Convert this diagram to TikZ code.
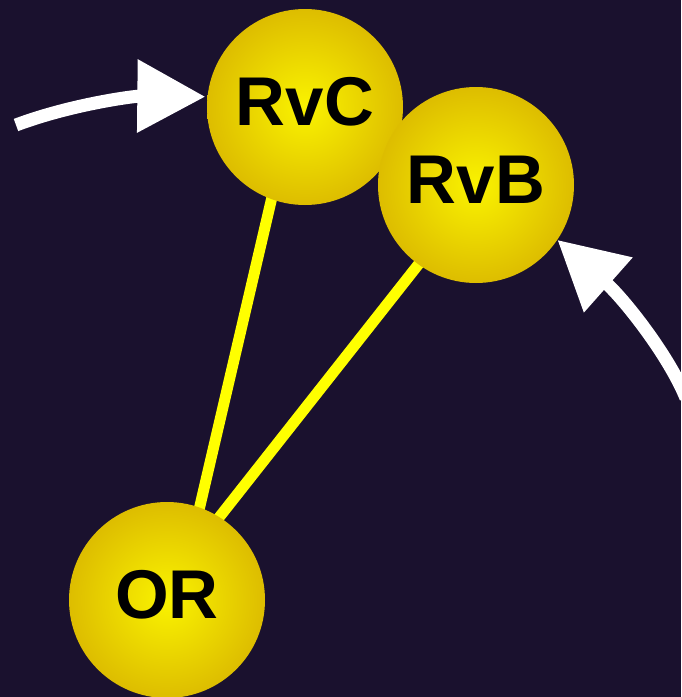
\documentclass[tikz,border=0pt]{standalone}
\usepackage{fontspec}
\setmainfont{Liberation Sans}
\usetikzlibrary{arrows.meta}
\definecolor{bgc}{HTML}{1A112E}
\definecolor{ballin}{HTML}{FAF300}
\definecolor{ballout}{HTML}{DDBD00}
\definecolor{linky}{HTML}{FFFF00}
\pgfdeclarelayer{back}
\pgfsetlayers{back,main}
\begin{document}
\begin{tikzpicture}[x=1pt,y=-1pt,
  ball/.style={circle, minimum size=196pt, inner sep=0pt, inner color=ballin, outer color=ballout,
    font=\fontsize{69}{69}\selectfont\bfseries, text height=52pt, text depth=16pt, text=black},
  link/.style={draw=linky, line width=11pt},
  pointer/.style={draw=white, line width=13pt, -{Triangle[length=68pt,width=70pt]}}]
\useasboundingbox (0,0) rectangle (681,697);
\begin{pgfonlayer}{back}
  \fill[bgc] (0,0) rectangle (681,697);
\end{pgfonlayer}
\node[ball] (RvC) at (305,107) {RvC};
\node[ball] (RvB) at (476,185) {RvB};
\node[ball] (OR) at (167,600) {OR};
\begin{pgfonlayer}{back}
  \draw[link] ([xshift=11pt]OR.center) -- ([xshift=-12pt]RvC.center);
  \draw[link] ([xshift=-13pt]OR.center) -- ([xshift=5pt]RvB.center);
\end{pgfonlayer}
\coordinate (s1) at (16,125);
\coordinate (s2) at (686,398);
\draw[pointer, shorten >=2pt] (s1) .. controls (72,104) and (135,96) .. (RvC.174);
\draw[pointer] (s2) .. controls (668,354) and (623,298) .. (RvB.326);
\end{tikzpicture}
\end{document}
